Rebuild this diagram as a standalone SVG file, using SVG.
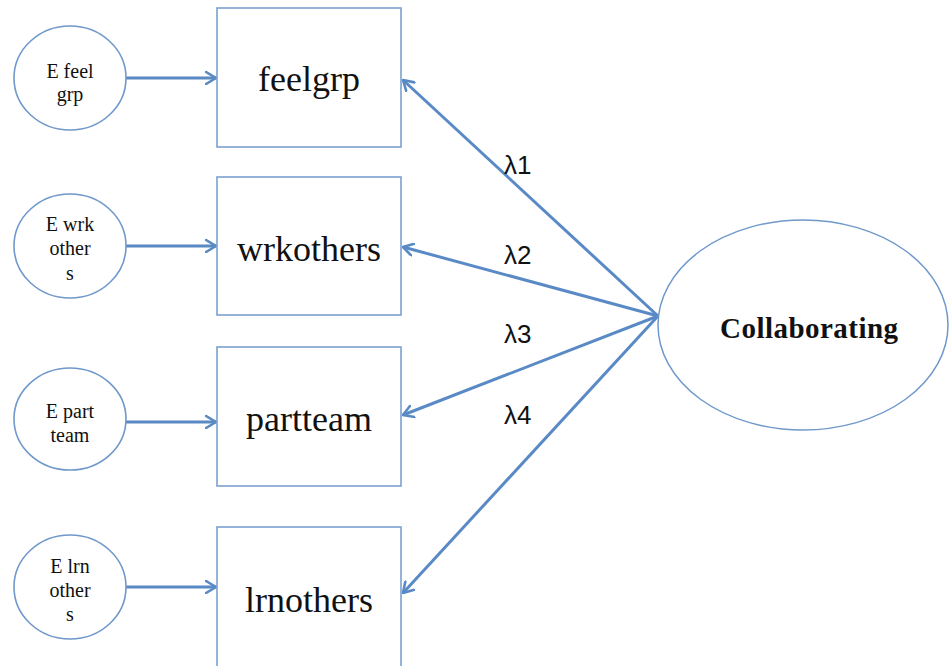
<svg xmlns="http://www.w3.org/2000/svg" width="949" height="666" viewBox="0 0 949 666">
  <defs>
    <style>
      .box { fill: #ffffff; stroke: #7ba1d0; stroke-width: 1.6; }
      .err { fill: #ffffff; stroke: #6f98cb; stroke-width: 1.6; }
      .latent { fill: #ffffff; stroke: #6f98cb; stroke-width: 1.5; }
      .edge { fill: none; stroke: #5a8ac6; stroke-width: 3; marker-end: url(#chev); }
      .obs { font-family: "Liberation Serif", "Times New Roman", serif; font-size: 36px; fill: #111111; text-anchor: middle; }
      .etxt { font-family: "Liberation Serif", "Times New Roman", serif; font-size: 20px; fill: #111111; text-anchor: middle; }
      .lam { font-family: "Liberation Sans", Arial, sans-serif; font-size: 26px; fill: #111111; }
      .fac { font-family: "Liberation Serif", "Times New Roman", serif; font-size: 29px; font-weight: bold; fill: #111111; text-anchor: middle; }
    </style>
    <marker id="chev" viewBox="0 0 12 14" refX="11" refY="7" markerWidth="12" markerHeight="14" markerUnits="userSpaceOnUse" orient="auto">
      <path d="M1,1 L11,7 L1,13" fill="none" stroke="#5a8ac6" stroke-width="2.6" stroke-linejoin="round" stroke-linecap="round"/>
    </marker>
  </defs>
  <rect width="949" height="666" fill="#ffffff"/>

  <!-- connectors -->
  <g id="connectors">
    <line class="edge" x1="125" y1="78" x2="216" y2="78"/>
    <line class="edge" x1="125" y1="246" x2="216" y2="246"/>
    <line class="edge" x1="125" y1="422" x2="216" y2="422"/>
    <line class="edge" x1="125" y1="587" x2="216" y2="587"/>
    <line class="edge" x1="658" y1="316" x2="403" y2="80"/>
    <line class="edge" x1="658" y1="316" x2="403" y2="247"/>
    <line class="edge" x1="658" y1="316" x2="403" y2="415"/>
    <line class="edge" x1="658" y1="316" x2="403" y2="593"/>
  </g>

  <!-- loading labels -->
  <g id="loadings">
    <text class="lam" x="504" y="174">λ1</text>
    <text class="lam" x="504" y="264">λ2</text>
    <text class="lam" x="504" y="343">λ3</text>
    <text class="lam" x="504" y="424">λ4</text>
  </g>

  <!-- error terms -->
  <g id="e-feelgrp">
    <ellipse class="err" cx="70" cy="78" rx="56" ry="52"/>
    <text class="etxt" x="70" y="78">E feel</text>
    <text class="etxt" x="70" y="101">grp</text>
  </g>
  <g id="e-wrkothers">
    <ellipse class="err" cx="70" cy="246" rx="56" ry="52"/>
    <text class="etxt" x="70" y="231">E wrk</text>
    <text class="etxt" x="70" y="255">other</text>
    <text class="etxt" x="70" y="280">s</text>
  </g>
  <g id="e-partteam">
    <ellipse class="err" cx="70" cy="419" rx="56" ry="51"/>
    <text class="etxt" x="70" y="418">E part</text>
    <text class="etxt" x="70" y="442">team</text>
  </g>
  <g id="e-lrnothers">
    <ellipse class="err" cx="70" cy="587" rx="56" ry="52"/>
    <text class="etxt" x="70" y="573">E lrn</text>
    <text class="etxt" x="70" y="597">other</text>
    <text class="etxt" x="70" y="621">s</text>
  </g>

  <!-- observed indicators -->
  <g id="feelgrp">
    <rect class="box" x="217" y="8" width="184" height="139"/>
    <text class="obs" x="309" y="91">feelgrp</text>
  </g>
  <g id="wrkothers">
    <rect class="box" x="217" y="177" width="184" height="138"/>
    <text class="obs" x="309" y="261">wrkothers</text>
  </g>
  <g id="partteam">
    <rect class="box" x="217" y="347" width="184" height="139"/>
    <text class="obs" x="309" y="431">partteam</text>
  </g>
  <g id="lrnothers">
    <rect class="box" x="217" y="527" width="184" height="145"/>
    <text class="obs" x="309" y="612">lrnothers</text>
  </g>

  <!-- latent factor -->
  <g id="collaborating">
    <ellipse class="latent" cx="803" cy="325" rx="145" ry="105"/>
    <text class="fac" x="809" y="338" textLength="178" lengthAdjust="spacing">Collaborating</text>
  </g>
</svg>
